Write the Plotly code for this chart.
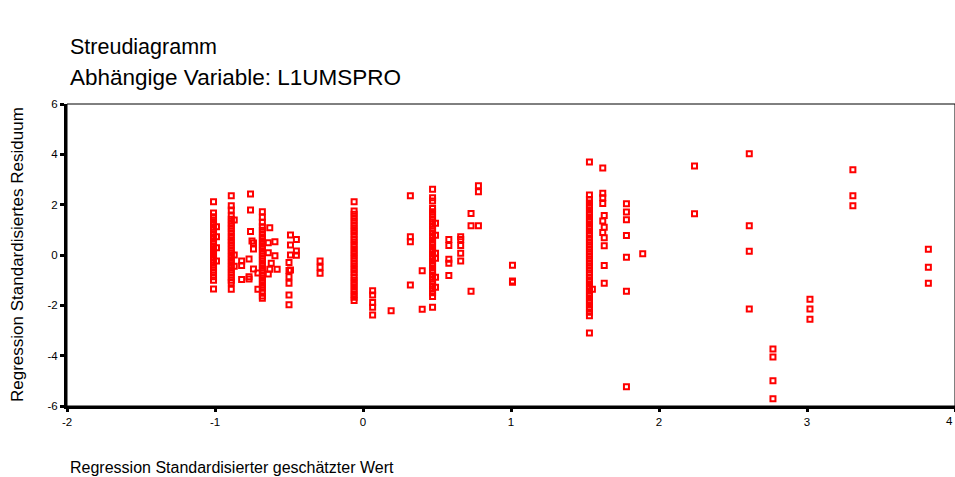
import plotly.graph_objects as go

# Dense columns of points: (predicted value, list of residuals)
col_A_x = -1.01
col_A_y = [2.12, 1.67, 1.52, 1.38, 1.25, 1.10, 0.98, 0.84, 0.70, 0.57, 0.45, 0.31, 0.18, 0.06,
           -0.08, -0.21, -0.33, -0.47, -0.60, -0.72, -0.86, -1.00, -1.35]
col_A2_x = -0.99
col_A2_y = [1.12, 0.73, 0.29, -0.24]
col_B_x = -0.89
col_B_y = [2.35, 1.96, 1.79, 1.55, 1.42, 1.28, 1.15, 1.02, 0.88, 0.74, 0.61, 0.48, 0.35, 0.21, 0.08,
           -0.06, -0.19, -0.33, -0.46, -0.60, -0.73, -0.87, -1.00, -1.10, -1.36]
col_B2_x = -0.87
col_B2_y = [1.39, 0.0, -0.45]
col_D_x = -0.68
col_D_y = [1.72, 1.50, 1.30, 1.12, 0.98, 0.84, 0.70, 0.57, 0.43, 0.30, 0.16, 0.03, -0.11, -0.24,
           -0.38, -0.51, -0.65, -0.78, -0.92, -1.05, -1.19, -1.32, -1.46, -1.63, -1.72]
col_E_x = -0.06
col_E_y = [2.12, 1.75, 1.62, 1.48, 1.34, 1.20, 1.06, 0.93, 0.79, 0.65, 0.52, 0.38, 0.24, 0.10,
           -0.03, -0.17, -0.31, -0.45, -0.58, -0.72, -0.86, -1.00, -1.13, -1.27, -1.41, -1.55,
           -1.68, -1.81]
col_F_x = 0.47
col_F_y = [2.61, 2.27, 2.15, 1.85, 1.72, 1.58, 1.44, 1.30, 1.16, 1.02, 0.88, 0.74, 0.60, 0.46,
           0.32, 0.18, 0.04, -0.10, -0.24, -0.38, -0.52, -0.66, -0.80, -0.94, -1.08, -1.22,
           -1.36, -1.50, -1.65, -2.08]
col_F2_x = 0.49
col_F2_y = [1.26, 0.78, 0.07, -0.13, -0.88, -1.28]
col_G_x = 1.53
col_G_y = [3.70, 2.38, 2.21, 2.07, 1.93, 1.79, 1.65, 1.51, 1.37, 1.23, 1.09, 0.95, 0.81, 0.67,
           0.53, 0.39, 0.25, 0.11, -0.03, -0.17, -0.31, -0.45, -0.59, -0.73, -0.87, -1.01,
           -1.15, -1.29, -1.43, -1.57, -1.71, -1.85, -1.99, -2.13, -2.27, -2.41, -3.10]

columns_x = [col_A_x, col_A2_x, col_B_x, col_B2_x, col_D_x, col_E_x, col_F_x, col_F2_x, col_G_x]
columns_y = [col_A_y, col_A2_y, col_B_y, col_B2_y, col_D_y, col_E_y, col_F_y, col_F2_y, col_G_y]

# Scattered individual points
single_x = [-0.76, -0.76, -0.76, -0.75, -0.74, -0.74, -0.77, -0.74, -0.77, -0.77,
            -0.82, -0.82, -0.82,
            -0.71, -0.71, -0.63, -0.64, -0.64, -0.595, -0.595, -0.62, -0.63, -0.58, -0.64,
            -0.49, -0.49, -0.49, -0.45, -0.45, -0.45, -0.50, -0.49, -0.50, -0.50, -0.50, -0.50, -0.50,
            -0.29, -0.29, -0.29,
            0.065, 0.065, 0.065, 0.065, 0.065, 0.19, 0.32, 0.32, 0.32, 0.32,
            0.40, 0.40, 0.58, 0.58, 0.58, 0.58, 0.58, 0.66, 0.66, 0.66, 0.66, 0.66,
            0.73, 0.73, 0.73, 0.78, 0.78, 0.78, 1.01, 1.01, 1.01,
            1.55, 1.62, 1.62, 1.62, 1.62, 1.62, 1.62, 1.63, 1.63, 1.63, 1.63, 1.63, 1.63,
            1.78, 1.78, 1.78, 1.78, 1.78, 1.78, 1.78, 1.89,
            2.24, 2.24, 2.61, 2.61, 2.61, 2.61, 2.77, 2.77, 2.77, 2.77,
            3.02, 3.02, 3.02, 3.31, 3.31, 3.31, 3.82, 3.82, 3.82]
single_y = [2.42, 1.79, 0.93, 0.56, 0.48, 0.24, -0.16, -0.56, -0.86, -0.95,
            -0.24, -0.42, -0.97,
            -0.72, -1.36, 1.08, 0.49, 0.09, 0.53, -0.03, -0.33, -0.57, -0.57, -0.75,
            0.79, 0.40, 0.0, 0.62, 0.16, -0.01, -0.30, -0.60, -0.62, -0.86, -1.12, -1.59, -1.98,
            -0.24, -0.49, -0.73,
            -1.42, -1.59, -1.89, -2.08, -2.38, -2.22, 2.35, 0.73, 0.53, -1.19,
            -0.63, -2.16, 0.62, 0.38, -0.17, -0.33, -0.81, 0.73, 0.62, 0.38, 0.07, -0.24,
            1.65, 1.16, -1.44, 2.75, 2.51, 1.16, -0.41, -1.03, -1.08,
            -1.36, 3.46, 2.45, 2.27, 2.05, 1.35, 0.89, 1.57, 1.10, 0.69, 0.37, -0.42, -1.12,
            2.04, 1.71, 1.40, 0.77, -0.09, -1.44, -5.24, 0.05,
            3.54, 1.64, 4.02, 1.16, 0.15, -2.15, -3.74, -4.05, -5.00, -5.71,
            -1.76, -2.15, -2.55, 3.39, 2.35, 1.96, 0.23, -0.49, -1.12]

x_ticks = [-2, -1, 0, 1, 2, 3, 4]
y_ticks = [-6, -4, -2, 0, 2, 4, 6]

all_x, all_y = [], []
for cx, cys in zip(columns_x, columns_y):
    all_x += [cx] * len(cys)
    all_y += cys
all_x += single_x
all_y += single_y

FONT = "Arial, Liberation Sans, sans-serif"

fig = go.Figure()
fig.add_trace(go.Scatter(
    x=all_x, y=all_y, mode="markers",
    marker=dict(symbol="square-open", size=5, color="#FF0000",
                line=dict(width=2, color="#FF0000")),
    showlegend=False, hoverinfo="x+y"))

fig.update_layout(
    width=955, height=477,
    margin=dict(l=67, r=0, t=104, b=71),
    paper_bgcolor="white", plot_bgcolor="white",
    font=dict(family=FONT, color="black"),
    xaxis=dict(range=[-2, 4], tickvals=x_ticks, ticktext=[str(v) for v in x_ticks],
               showgrid=False, zeroline=False, showline=True, linecolor="black", linewidth=3,
               ticks="outside", ticklen=3, tickwidth=3, tickcolor="black",
               tickfont=dict(size=11.5, family=FONT), fixedrange=True),
    yaxis=dict(range=[-6, 6], tickvals=y_ticks, ticktext=[str(v) for v in y_ticks],
               showgrid=False, zeroline=False, showline=True, linecolor="black", linewidth=3,
               ticks="outside", ticklen=4, tickwidth=3, tickcolor="black",
               tickfont=dict(size=11.5, family=FONT), fixedrange=True),
    shapes=[dict(type="rect", xref="paper", yref="paper", x0=0, y0=0, x1=1, y1=1,
                 line=dict(color="black", width=1), layer="above")],
    annotations=[
        dict(text="Streudiagramm", xref="paper", yref="paper", x=0.001, y=1.189,
             xanchor="left", yanchor="middle", showarrow=False, font=dict(size=21.5, family=FONT)),
        dict(text="Abhängige Variable: L1UMSPRO", xref="paper", yref="paper", x=0.001, y=1.089,
             xanchor="left", yanchor="middle", showarrow=False, font=dict(size=22.5, family=FONT)),
        dict(text="Regression Standardisierter geschätzter Wert", xref="paper", yref="paper",
             x=0.001, y=-0.202, xanchor="left", yanchor="middle", showarrow=False,
             font=dict(size=16, family=FONT)),
        dict(text="Regression Standardisiertes Residuum", xref="paper", yref="paper",
             x=-0.0563, y=0.5, xanchor="center", yanchor="middle", textangle=-90,
             showarrow=False, font=dict(size=17, family=FONT)),
        dict(text=str(x_ticks[-1]), xref="x", yref="paper", x=x_ticks[-1], y=-0.05,
             xanchor="right", yanchor="middle", showarrow=False,
             font=dict(size=11.5, family=FONT)),
    ],
)

fig.write_html("out.html", config={"displayModeBar": False},
               post_script="document.body.style.margin='0';document.body.style.overflow='hidden';")
